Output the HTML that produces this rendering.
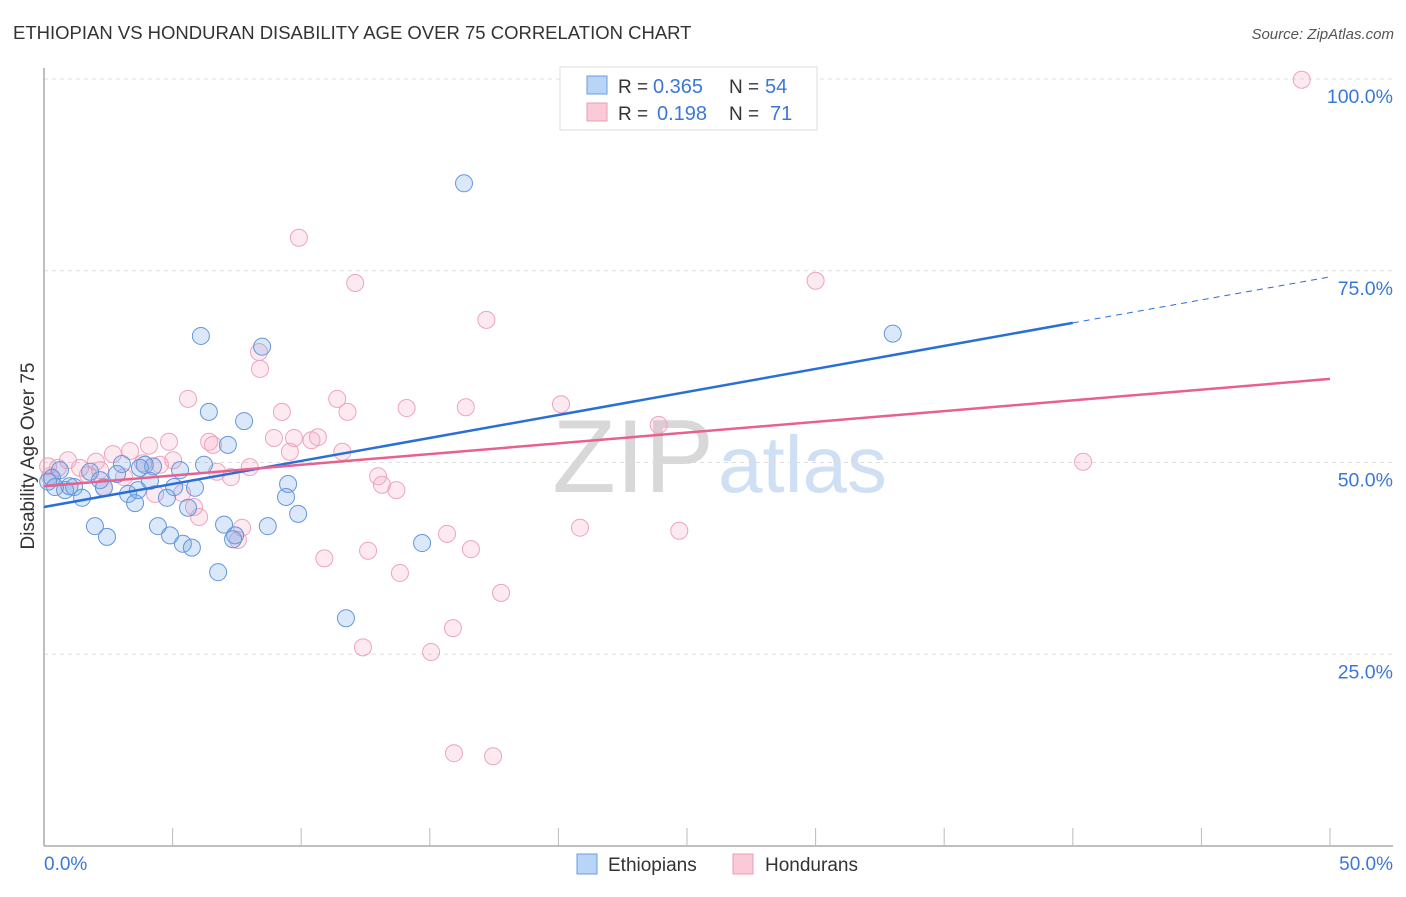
<!DOCTYPE html>
<html><head><meta charset="utf-8"><style>
body{margin:0;background:#fff;font-family:"Liberation Sans",sans-serif}
svg text{font-family:"Liberation Sans",sans-serif}
</style></head><body>
<svg id="chart" width="1406" height="892" xmlns="http://www.w3.org/2000/svg">
<text x="13" y="39" font-size="18.5" fill="#333">ETHIOPIAN VS HONDURAN DISABILITY AGE OVER 75 CORRELATION CHART</text>
<text x="1394" y="39" font-size="15" fill="#555" font-style="italic" text-anchor="end">Source: ZipAtlas.com</text>
<text x="714" y="492" font-size="104" fill="#d8d8d8" text-anchor="end" font-family="Liberation Serif">ZIP</text>
<text x="718" y="492" font-size="80" fill="#cfe0f4">atlas</text>
<g id="grid"></g><g id="axes"></g><g id="marks"></g>
<text transform="translate(34,456) rotate(-90)" font-size="19" fill="#333" text-anchor="middle">Disability Age Over 75</text>
<g>
<rect x="560" y="67" width="257" height="63" fill="#fff" stroke="#ddd"/>
<rect x="587" y="76" width="20" height="18" fill="#b8d4f6" stroke="#6a9be0"/>
<rect x="587" y="103" width="20" height="18" fill="#fbcad8" stroke="#eb9ab4"/>
<text x="618" y="93" font-size="19" fill="#333">R =</text>
<text x="653" y="93" font-size="20" fill="#3a78d8">0.365</text>
<text x="729" y="93" font-size="19" fill="#333">N =</text>
<text x="765" y="93" font-size="20" fill="#3a78d8">54</text>
<text x="618" y="120" font-size="19" fill="#333">R =</text>
<text x="657" y="120" font-size="20" fill="#3a78d8">0.198</text>
<text x="729" y="120" font-size="19" fill="#333">N =</text>
<text x="770" y="120" font-size="20" fill="#3a78d8">71</text>
</g>
<g>
<rect x="577" y="854" width="20" height="20" fill="#b8d4f6" stroke="#6a9be0"/>
<text x="608" y="871" font-size="19" fill="#333">Ethiopians</text>
<rect x="733" y="854" width="20" height="20" fill="#fbcad8" stroke="#eb9ab4"/>
<text x="765" y="871" font-size="19" fill="#333">Hondurans</text>
</g>
</svg>
<script>
const yTicks=[25,50,75,100];
const yTickLabels=["25.0%","50.0%","75.0%","100.0%"];
const xTickLabels=["0.0%","50.0%"];
const ethX=[16.33,33.0,6.1,8.48,6.41,7.78,7.15,6.22,5.29,4.24,3.03,3.92,2.84,1.79,0.62,0.31,0.43,0.82,1.17,2.18,2.33,1.48,3.27,3.65,3.54,4.78,4.12,5.06,5.87,5.6,9.49,9.41,9.88,1.98,2.45,4.43,4.9,5.4,5.75,7.0,7.43,7.35,8.7,6.77,11.74,14.7,0.16,0.99,3.73];
const ethY=[86.4,66.8,66.5,65.1,56.6,55.4,52.3,49.7,49.0,49.5,49.8,49.7,48.5,48.8,49.0,48.0,46.8,46.4,46.8,47.7,46.7,45.4,45.9,46.4,44.7,45.4,47.6,46.8,46.7,44.1,47.2,45.5,43.3,41.7,40.3,41.7,40.5,39.4,38.9,41.9,40.5,40.0,41.7,35.7,29.7,39.5,47.5,46.9,49.3];
const honX=[48.9,30.0,9.91,12.1,17.2,8.36,8.4,5.6,9.25,11.4,11.8,14.1,16.4,20.1,23.9,40.4,8.94,9.72,10.65,10.4,9.56,11.6,6.42,6.57,4.86,4.08,3.35,2.68,5.02,2.02,0.93,0.54,0.16,0.23,1.4,2.18,3.11,3.85,4.51,1.71,2.33,6.73,8.0,7.27,12.99,13.14,13.7,4.32,5.37,5.83,6.03,7.7,7.54,15.67,16.6,20.84,24.7,12.6,10.9,13.84,17.77,15.9,12.4,15.05,15.94,17.46];
const honY=[99.9,73.7,79.3,73.4,68.6,64.4,62.2,58.3,56.6,58.3,56.6,57.1,57.2,57.6,54.9,50.1,53.2,53.2,53.3,52.9,51.4,51.4,52.7,52.3,52.7,52.2,51.5,51.1,50.3,50.1,50.3,49.3,49.5,48.2,49.3,49.0,48.1,49.9,49.7,48.4,46.8,48.8,49.4,48.1,48.2,47.1,46.4,45.9,46.0,44.2,42.9,41.5,39.9,40.7,38.7,41.5,41.1,38.5,37.5,35.6,33.0,28.4,25.9,25.3,12.1,11.7];
const ethTrendX=[0,40,50];const ethTrendY=[44.2,68.2,74.2];
const honTrendX=[0,50];const honTrendY=[46.9,60.9];
const NS="http://www.w3.org/2000/svg";
const X=v=>44+v*25.72, Y=v=>846-v*7.67;
function mk(t,a,p){const e=document.createElementNS(NS,t);for(const k in a)e.setAttribute(k,a[k]);p.appendChild(e);return e;}
const grid=document.getElementById('grid'),axes=document.getElementById('axes'),marks=document.getElementById('marks');
yTicks.forEach((t,i)=>{
 const l=mk('line',{x1:44,x2:1393,y1:Y(t),y2:Y(t),stroke:'#ddd','stroke-dasharray':'4,4'},grid);
 
 
 const tx=mk('text',{x:1393,y:Y(t)+24,'font-size':19.5,fill:'#3a78d8','text-anchor':'end'},axes);tx.textContent=yTickLabels[i];
 
 
});
const ax=mk('line',{x1:44,x2:1393,y1:846,y2:846,stroke:'#aaa','stroke-width':1.5},axes);


const ay=mk('line',{x1:44,x2:44,y1:68,y2:846,stroke:'#aaa','stroke-width':1.5},axes);


for(let i=1;i<=10;i++){const tk=mk('line',{x1:X(i*5),x2:X(i*5),y1:828,y2:846,stroke:'#bbb'},axes);
 
 }
[[0,'start'],[50,'end']].forEach((p,i)=>{const t=mk('text',{x:i?1393:44,y:870,'font-size':19,fill:'#3a78d8','text-anchor':p[1]},axes);t.textContent=xTickLabels[i];
 
 });
honX.forEach((v,i)=>{const c=mk('circle',{cx:X(v),cy:Y(honY[i]),r:8.5,fill:'rgba(245,160,190,0.22)',stroke:'#eea3bd','stroke-width':1},marks);
 
 });
ethX.forEach((v,i)=>{const c=mk('circle',{cx:X(v),cy:Y(ethY[i]),r:8.5,fill:'rgba(110,165,230,0.25)',stroke:'#6496dc','stroke-width':1},marks);
 
 });
const tb=mk('line',{x1:X(ethTrendX[0]),y1:Y(ethTrendY[0]),x2:X(ethTrendX[1]),y2:Y(ethTrendY[1]),stroke:'#2a6fd6','stroke-width':2.5},marks);


const td=mk('line',{x1:X(ethTrendX[1]),y1:Y(ethTrendY[1]),x2:X(ethTrendX[2]),y2:Y(ethTrendY[2]),stroke:'#2a6fd6','stroke-width':1,'stroke-dasharray':'6,5'},marks);


const tp=mk('line',{x1:X(honTrendX[0]),y1:Y(honTrendY[0]),x2:X(honTrendX[1]),y2:Y(honTrendY[1]),stroke:'#e8608e','stroke-width':2.5},marks);


</script>
</body></html>
